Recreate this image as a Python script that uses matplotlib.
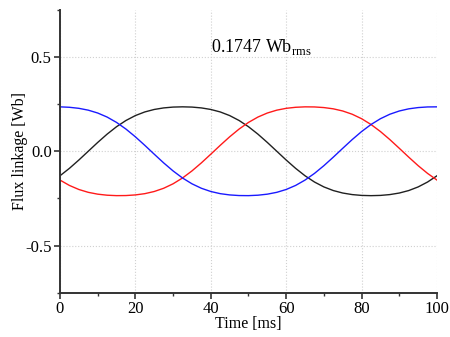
import matplotlib
matplotlib.use("Agg")
import matplotlib.pyplot as plt
from matplotlib.ticker import MultipleLocator

# time axis [ms], one sample every 2.5 ms
time_ms = [i * 2.5 for i in range(41)]

# flux linkage of the three phases [Wb]
flux_black = [-0.1298, -0.0905, -0.0465, 0.0, 0.0465, 0.0905, 0.1298, 0.1628, 0.1888,
              0.2080, 0.2211, 0.2293, 0.2337, 0.2350, 0.2337, 0.2293, 0.2211, 0.2080,
              0.1888, 0.1628, 0.1298, 0.0905, 0.0465, 0.0, -0.0465, -0.0905, -0.1298,
              -0.1628, -0.1888, -0.2080, -0.2211, -0.2293, -0.2337, -0.2350, -0.2337,
              -0.2293, -0.2211, -0.2080, -0.1888, -0.1628, -0.1298]
flux_red = [-0.1525, -0.1809, -0.2023, -0.2174, -0.2271, -0.2326, -0.2349, -0.2344,
            -0.2311, -0.2244, -0.2130, -0.1959, -0.1722, -0.1415, -0.1042, -0.0616,
            -0.0156, 0.0312, 0.0763, 0.1173, 0.1525, 0.1809, 0.2023, 0.2174, 0.2271,
            0.2326, 0.2349, 0.2344, 0.2311, 0.2244, 0.2130, 0.1959, 0.1722, 0.1415,
            0.1042, 0.0616, 0.0156, -0.0312, -0.0763, -0.1173, -0.1525]
flux_blue = [0.2349, 0.2326, 0.2271, 0.2174, 0.2023, 0.1809, 0.1525, 0.1173, 0.0763,
             0.0312, -0.0156, -0.0616, -0.1042, -0.1415, -0.1722, -0.1959, -0.2130,
             -0.2244, -0.2311, -0.2344, -0.2349, -0.2326, -0.2271, -0.2174, -0.2023,
             -0.1809, -0.1525, -0.1173, -0.0763, -0.0312, 0.0156, 0.0616, 0.1042,
             0.1415, 0.1722, 0.1959, 0.2130, 0.2244, 0.2311, 0.2344, 0.2349]

rms_label = "0.1747 Wb"

plt.rcParams["font.family"] = ["Liberation Serif", "DejaVu Serif"]
plt.rcParams["mathtext.fontset"] = "custom"
plt.rcParams["mathtext.rm"] = "Liberation Serif"
plt.rcParams["font.size"] = 12

fig = plt.figure(figsize=(4.5, 3.37), dpi=100)
ax = fig.add_axes([0.1333, 0.1306, 0.8378, 0.8412])

ax.plot(time_ms, flux_black, color="#202020", lw=1.0)
ax.plot(time_ms, flux_red, color="#ff1a1a", lw=1.0)
ax.plot(time_ms, flux_blue, color="#1a1aff", lw=1.0)

ax.set_xlim(0, 100)
ax.set_ylim(-0.75, 0.75)
ax.xaxis.set_major_locator(MultipleLocator(20))
ax.xaxis.set_minor_locator(MultipleLocator(10))
ax.yaxis.set_major_locator(MultipleLocator(0.5))
ax.yaxis.set_minor_locator(MultipleLocator(0.25))
ax.yaxis.set_major_formatter(plt.FuncFormatter(lambda v, p: f"{v:.1f}"))

ax.grid(True, which="major", color="#d0d0d0", linestyle=":", linewidth=0.8)
ax.set_axisbelow(True)

for side in ("top", "right"):
    ax.spines[side].set_visible(False)
for side in ("left", "bottom"):
    ax.spines[side].set_color("#333333")
    ax.spines[side].set_linewidth(1.4)

ax.tick_params(which="major", direction="out", length=4, width=1.2, color="#333333",
               labelsize=12, pad=2)
ax.tick_params(which="minor", direction="out", length=2.5, width=1.0, color="#333333")

ax.set_xlabel("Time [ms]", fontsize=11.5, labelpad=-1)
ax.set_ylabel("Flux linkage [Wb]", fontsize=11.5, labelpad=-2)

ax.text(40, 0.55, rms_label + r"$_{\mathrm{rms}}$", fontsize=13, ha="left", va="center")

fig.savefig("out.png", dpi=100)
